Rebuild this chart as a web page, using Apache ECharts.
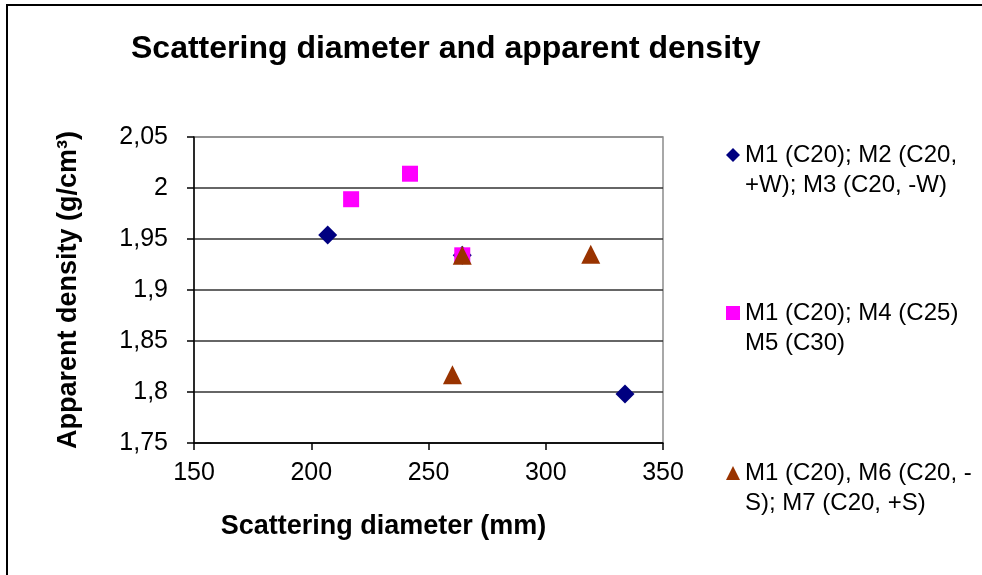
<!DOCTYPE html>
<html>
<head>
<meta charset="utf-8">
<script src="https://cdn.jsdelivr.net/npm/echarts@6/dist/echarts.min.js"></script>
<style>
  html, body { margin: 0; background: #fff; overflow: hidden; }
  #chart { position: absolute; left: 0; top: 0; width: 982px; height: 575px; }
  #frame { position: absolute; left: 6px; top: 4px; width: 974px; height: 569px;
           border-left: 2px solid #000; border-top: 2px solid #000; pointer-events: none; }
</style>
</head>
<body>
<div id="chart"></div>
<div id="frame"></div>
<script>
// values
const seriesNames = [
  'M1 (C20); M2 (C20,\n+W); M3 (C20, -W)',
  'M1 (C20); M4 (C25)\nM5 (C30)',
  'M1 (C20), M6 (C20, -\nS); M7 (C20, +S)'
];
const diamondX = [207, 264.4, 333.8];
const diamondY = [1.954, 1.934, 1.798];
const squareX = [217, 242.1, 264.4];
const squareY = [1.989, 2.014, 1.934];
const triangleX = [264.4, 260.2, 319.2];
const triangleY = [1.934, 1.817, 1.935];

const font = '"Liberation Sans", Arial, sans-serif';
const pairs = (xs, ys) => xs.map((x, i) => [x, ys[i]]);

const chart = echarts.init(document.getElementById('chart'), null, { renderer: 'canvas' });

// blank first line so the marker sits level with the first text line
const legendAt = (name, icon, top) => ({
  data: [{ name: name, icon: icon }],
  left: 726,
  top: top,
  padding: 0,
  itemWidth: 14,
  itemHeight: 14,
  selectedMode: false,
  formatter: n => '\n' + n,
  textStyle: {
    fontFamily: font,
    fontSize: 24,
    lineHeight: 30,
    color: '#000'
  }
});

chart.setOption({
  animation: false,
  backgroundColor: '#fff',
  title: {
    text: 'Scattering diameter and apparent density',
    left: 131,
    top: 33,
    padding: 0,
    textStyle: { fontFamily: font, fontSize: 32, fontWeight: 'bold', color: '#000' }
  },
  legend: [
    legendAt(seriesNames[0], 'diamond', 110),
    legendAt(seriesNames[1], 'rect', 268),
    legendAt(seriesNames[2], 'triangle', 428)
  ],
  grid: {
    left: 194,
    right: 319,
    top: 137,
    bottom: 132,
    show: true,
    borderColor: '#8c8c8c',
    borderWidth: 1.5
  },
  xAxis: {
    type: 'value',
    min: 150,
    max: 350,
    interval: 50,
    name: 'Scattering diameter (mm)',
    nameLocation: 'middle',
    nameGap: 70,
    nameTextStyle: {
      fontFamily: font, fontSize: 27, fontWeight: 'bold', color: '#000',
      padding: [0, 90, 0, 0]
    },
    axisLine: { lineStyle: { color: '#000', width: 1.5 } },
    axisTick: { show: true, length: 7, lineStyle: { color: '#000', width: 1.5 } },
    axisLabel: { fontFamily: font, fontSize: 25, color: '#000', margin: 18 },
    splitLine: { show: false }
  },
  yAxis: {
    type: 'value',
    min: 1.75,
    max: 2.05,
    interval: 0.05,
    name: 'Apparent density (g/cm³)',
    nameLocation: 'middle',
    nameGap: 112,
    nameTextStyle: { fontFamily: font, fontSize: 27, fontWeight: 'bold', color: '#000' },
    axisLine: { show: true, lineStyle: { color: '#000', width: 1.5 } },
    axisTick: { show: true, length: 7, lineStyle: { color: '#000', width: 1.5 } },
    axisLabel: {
      fontFamily: font, fontSize: 25, color: '#000', margin: 26,
      formatter: v => String(+v.toFixed(2)).replace('.', ',')
    },
    splitLine: {
      show: true,
      lineStyle: {
        color: ['#333', '#333', '#333', '#333', '#333', '#333', '#8c8c8c'],
        width: 1.5
      }
    }
  },
  series: [
    {
      name: seriesNames[0],
      type: 'scatter',
      symbol: 'diamond',
      symbolSize: 19,
      itemStyle: { color: '#000080', opacity: 1 },
      data: pairs(diamondX, diamondY)
    },
    {
      name: seriesNames[1],
      type: 'scatter',
      symbol: 'rect',
      symbolSize: 16,
      itemStyle: { color: '#ff00ff', opacity: 1 },
      data: pairs(squareX, squareY)
    },
    {
      name: seriesNames[2],
      type: 'scatter',
      symbol: 'triangle',
      symbolSize: 19,
      itemStyle: { color: '#993300', opacity: 1 },
      data: pairs(triangleX, triangleY)
    }
  ]
});
</script>
</body>
</html>
